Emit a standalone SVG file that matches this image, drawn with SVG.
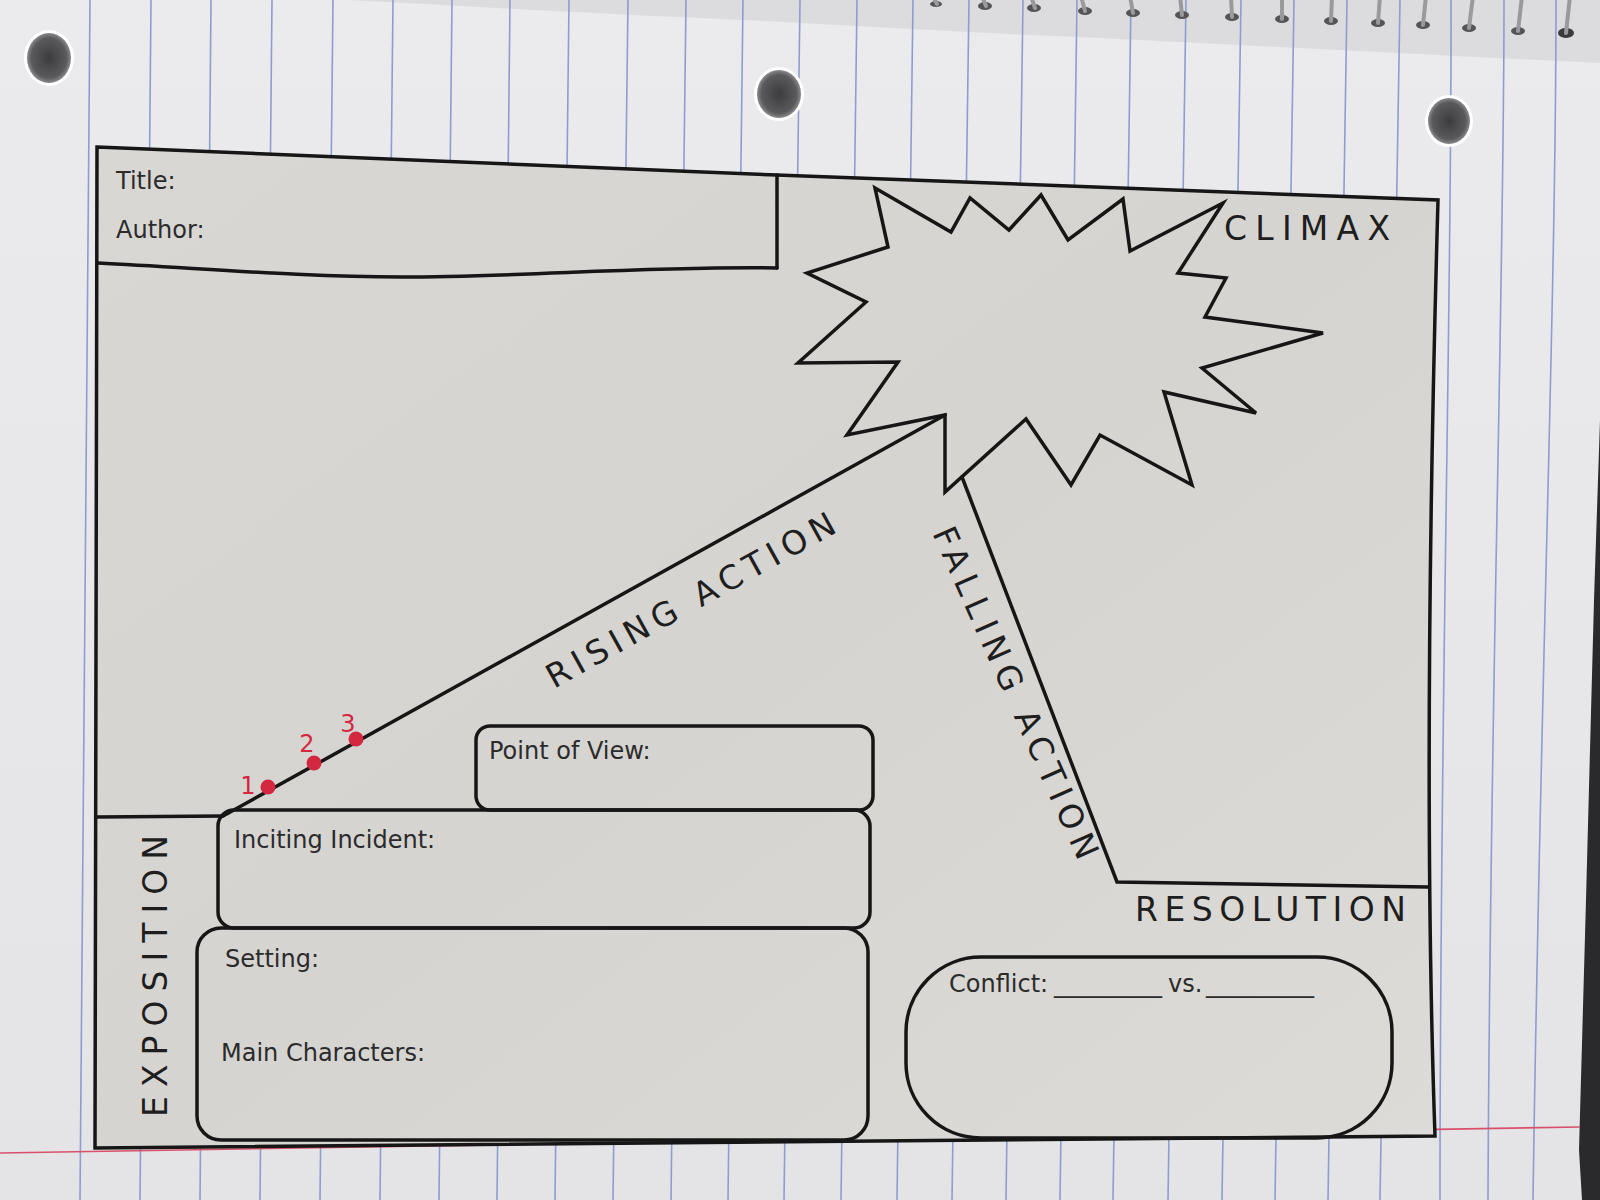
<svg xmlns="http://www.w3.org/2000/svg" width="1600" height="1200" viewBox="0 0 1600 1200">
  <defs>
    <linearGradient id="nb" x1="0" y1="0" x2="0" y2="1">
      <stop offset="0" stop-color="#ebebed"/>
      <stop offset="1" stop-color="#e4e4e6"/>
    </linearGradient>
    <linearGradient id="ws" x1="0" y1="0" x2="1" y2="1">
      <stop offset="0" stop-color="#d9d7d4"/>
      <stop offset="0.5" stop-color="#d6d4d1"/>
      <stop offset="1" stop-color="#dddbd8"/>
    </linearGradient>
    <radialGradient id="hole" cx="0.5" cy="0.5" r="0.5">
      <stop offset="0" stop-color="#3c3c3e"/>
      <stop offset="0.8" stop-color="#5a5a5c"/>
      <stop offset="1" stop-color="#8a8a8c"/>
    </radialGradient>
  </defs>
  <style>
    .ink { fill: none; stroke: #161616; stroke-width: 3.5; stroke-linejoin: miter; stroke-linecap: round; }
    .blue { stroke: #8e9ccf; stroke-width: 1.6; fill: none; }
    .lbl { font-family: "DejaVu Sans", "Liberation Sans", sans-serif; font-size: 24px; fill: #2b2b2b; }
    .cap { font-family: "DejaVu Sans", "Liberation Sans", sans-serif; font-size: 33px; fill: #1e1e1e; }
    .red { fill: #d3283f; }
    .redt { font-family: "DejaVu Sans", "Liberation Sans", sans-serif; font-size: 24px; fill: #d3283f; }
    .ring { fill: none; stroke: #9a9a9e; stroke-width: 4; stroke-linecap: round; }
  </style>

  <!-- notebook paper background -->
  <rect x="0" y="0" width="1600" height="1200" fill="url(#nb)"/>
  <path d="M347,0 C450,5 560,12 700,18 C850,25 950,32 1100,38 C1300,48 1450,56 1600,63 L1600,0 Z" fill="#dcdcdf"/>
  <path d="M1600,420 L1594,600 L1586,900 L1579,1150 L1582,1200 L1600,1200 Z" fill="#2a2a2c"/>

  <!-- ruled lines -->
  <g id="ruled-lines">
    <line class="blue" x1="90" y1="0" x2="80" y2="1200"/>
    <line class="blue" x1="151" y1="0" x2="140" y2="1200"/>
    <line class="blue" x1="211" y1="0" x2="200" y2="1200"/>
    <line class="blue" x1="272" y1="0" x2="260" y2="1200"/>
    <line class="blue" x1="333" y1="0" x2="320" y2="1200"/>
    <line class="blue" x1="393" y1="0" x2="380" y2="1200"/>
    <line class="blue" x1="452" y1="0" x2="439" y2="1200"/>
    <line class="blue" x1="510" y1="0" x2="497" y2="1200"/>
    <line class="blue" x1="569" y1="0" x2="555" y2="1200"/>
    <line class="blue" x1="628" y1="0" x2="613" y2="1200"/>
    <line class="blue" x1="686" y1="0" x2="671" y2="1200"/>
    <line class="blue" x1="743" y1="0" x2="728" y2="1200"/>
    <line class="blue" x1="800" y1="0" x2="784" y2="1200"/>
    <line class="blue" x1="857" y1="0" x2="841" y2="1200"/>
    <line class="blue" x1="913" y1="0" x2="897" y2="1200"/>
    <line class="blue" x1="969" y1="0" x2="952" y2="1200"/>
    <line class="blue" x1="1023" y1="0" x2="1006" y2="1200"/>
    <line class="blue" x1="1077" y1="0" x2="1060" y2="1200"/>
    <line class="blue" x1="1131" y1="0" x2="1113" y2="1200"/>
    <line class="blue" x1="1186" y1="0" x2="1168" y2="1200"/>
    <line class="blue" x1="1241" y1="0" x2="1222" y2="1200"/>
    <line class="blue" x1="1294" y1="0" x2="1275" y2="1200"/>
    <line class="blue" x1="1347" y1="0" x2="1328" y2="1200"/>
    <line class="blue" x1="1400" y1="0" x2="1380" y2="1200"/>
    <path class="blue" d="M1451,0 C1452,300 1440,700 1440,1200"/>
    <path class="blue" d="M1504,0 C1504,300 1490,700 1488,1200"/>
    <path class="blue" d="M1556,0 C1556,300 1540,700 1533,1200"/>
    <line x1="0" y1="1153" x2="1580" y2="1127" stroke="#d9506a" stroke-width="1.6"/>
  </g>

  <!-- binder holes -->
  <g id="holes">
    <ellipse cx="49" cy="58" rx="25" ry="28" fill="#ffffff"/>
    <ellipse cx="49" cy="58" rx="22" ry="25" fill="url(#hole)"/>
    <ellipse cx="779" cy="94" rx="25" ry="27" fill="#ffffff"/>
    <ellipse cx="779" cy="94" rx="22" ry="24" fill="url(#hole)"/>
    <ellipse cx="1449" cy="121" rx="24" ry="26" fill="#ffffff"/>
    <ellipse cx="1449" cy="121" rx="21" ry="23" fill="url(#hole)"/>
  </g>

  <!-- spiral binding -->
  <g id="spiral">
    <ellipse cx="936" cy="4" rx="6" ry="3" fill="#555"/><path class="ring" d="M933,-4 L937,4"/>
    <ellipse cx="985" cy="6" rx="7" ry="4" fill="#555"/><path class="ring" d="M982,-4 L986,6"/>
    <ellipse cx="1034" cy="8" rx="7" ry="4" fill="#555"/><path class="ring" d="M1031,-4 L1035,8"/>
    <ellipse cx="1085" cy="11" rx="7" ry="4" fill="#555"/><path class="ring" d="M1081,-4 L1085,11"/>
    <ellipse cx="1133" cy="13" rx="7" ry="4" fill="#555"/><path class="ring" d="M1130,-4 L1133,13"/>
    <ellipse cx="1182" cy="15" rx="7" ry="4" fill="#555"/><path class="ring" d="M1180,-4 L1182,15"/>
    <ellipse cx="1232" cy="17" rx="7" ry="4" fill="#555"/><path class="ring" d="M1231,-4 L1232,17"/>
    <ellipse cx="1282" cy="19" rx="7" ry="4" fill="#555"/><path class="ring" d="M1282,-4 L1282,19"/>
    <ellipse cx="1331" cy="21" rx="7" ry="4" fill="#555"/><path class="ring" d="M1332,-4 L1331,21"/>
    <ellipse cx="1378" cy="23" rx="7" ry="4" fill="#555"/><path class="ring" d="M1380,-4 L1378,23"/>
    <ellipse cx="1423" cy="25" rx="7" ry="4" fill="#555"/><path class="ring" d="M1426,-4 L1423,25"/>
    <ellipse cx="1469" cy="28" rx="7" ry="4" fill="#555"/><path class="ring" d="M1473,-4 L1469,28"/>
    <ellipse cx="1518" cy="31" rx="7" ry="4" fill="#555"/><path class="ring" d="M1522,-4 L1518,31"/>
    <ellipse cx="1566" cy="33" rx="8" ry="5" fill="#3a3a3a"/><path class="ring" d="M1570,-4 L1566,33"/>
  </g>

  <!-- worksheet frame -->
  <g id="frame">
    <path d="M97,147 L777,175 L1438,200 Q1422,765 1435,1136 L95,1148 Z" fill="url(#ws)" stroke="#161616" stroke-width="3.5" stroke-linejoin="miter"/>
  </g>

  <!-- title box -->
  <g id="title-box">
    <path class="ink" d="M777,175 L777,268"/>
    <path class="ink" d="M98,263 C200,268 300,277 402,277 C520,277 650,266 777,268"/>
    <text class="lbl" x="116" y="189">Title:</text>
    <text class="lbl" x="116" y="238">Author:</text>
  </g>

  <!-- climax starburst -->
  <g id="climax">
    <polygon class="ink" points="875,188 951,232 970,198 1009,230 1041,195 1068,240 1123,199 1130,251 1223,203 1178,273 1226,278 1205,317 1323,333 1202,368 1256,413 1164,392 1192,485 1100,435 1071,485 1026,419 945,492 945,415 847,435 898,362 798,363 866,302 807,273 888,247"/>
    <text class="cap" x="1224" y="240" textLength="166" lengthAdjust="spacing">CLIMAX</text>
  </g>

  <!-- plot line connectors -->
  <g id="connectors">
    <path id="exposition-line" class="ink" d="M97,817 L223,816"/>
    <path id="rising-action-line" class="ink" d="M223,816 L945,415"/>
    <path id="falling-action-line" class="ink" d="M962,477 L1117,882 L1428,887"/>
  </g>

  <!-- plot line labels -->
  <g id="labels">
    <text class="cap" transform="translate(554,689) rotate(-29)" textLength="325" lengthAdjust="spacing">RISING ACTION</text>
    <text class="cap" transform="translate(932,533) rotate(66)" textLength="360" lengthAdjust="spacing">FALLING ACTION</text>
    <text class="cap" transform="translate(167,1117) rotate(-90)" textLength="282" lengthAdjust="spacing">EXPOSITION</text>
    <text class="cap" x="1135" y="921" textLength="271" lengthAdjust="spacing">RESOLUTION</text>
  </g>

  <!-- boxes -->
  <g id="point-of-view">
    <rect class="ink" x="476" y="726" width="397" height="84" rx="14"/>
    <text class="lbl" x="489" y="759">Point of View:</text>
  </g>
  <g id="inciting-incident">
    <rect class="ink" x="218" y="810" width="652" height="118" rx="16"/>
    <text class="lbl" x="234" y="848">Inciting Incident:</text>
  </g>
  <g id="setting">
    <rect class="ink" x="197" y="928" width="671" height="212" rx="24"/>
    <text class="lbl" x="225" y="967">Setting:</text>
    <text class="lbl" x="221" y="1061">Main Characters:</text>
  </g>
  <g id="conflict">
    <rect class="ink" x="906" y="957" width="486" height="181" rx="75"/>
    <text class="lbl" x="949" y="992">Conflict: <tspan x="1054">_________</tspan><tspan x="1168">vs.</tspan> <tspan x="1206">_________</tspan></text>
  </g>

  <!-- handwritten red marks -->
  <g id="red-marks">
    <circle class="red" cx="268" cy="787" r="7.5"/>
    <circle class="red" cx="314" cy="763" r="7.5"/>
    <circle class="red" cx="356" cy="739" r="7.5"/>
    <text class="redt" x="248" y="794" text-anchor="middle">1</text>
    <text class="redt" x="307" y="752" text-anchor="middle">2</text>
    <text class="redt" x="348" y="732" text-anchor="middle">3</text>
  </g>
</svg>
